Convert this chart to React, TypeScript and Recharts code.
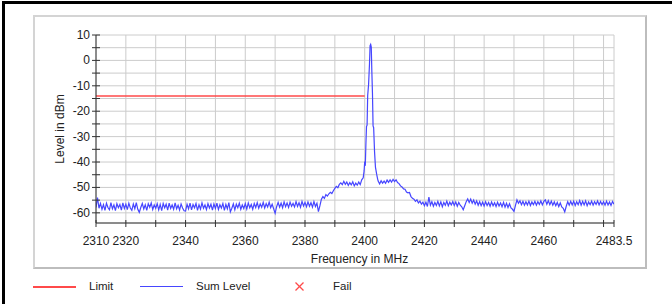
import { LineChart, Line, XAxis, YAxis, CartesianGrid } from 'recharts'

// sweep: 2310 .. 2483.5 MHz, one reading per 0.5 MHz
const sweepStart = 2310
const sweepStep = 0.5
const sweepLevels = [
  -57.9, -54.0, -58.2, -56.3, -58.6, -56.8, -59.0, -56.2, -57.9, -58.8, -56.0, -58.4, -56.9, -59.1, -56.4, -58.0, -56.7, -58.9, -56.1, -58.3,
  -56.6, -58.7, -56.2, -58.1, -59.0, -56.5, -58.4, -56.0, -58.6, -59.8, -57.9, -56.3, -58.5, -56.8, -59.0, -56.4, -57.8, -56.1, -58.7, -56.9,
  -58.2, -56.4, -58.8, -56.7, -59.1, -56.3, -58.0, -56.6, -58.9, -56.2, -58.3, -56.9, -58.6, -56.1, -58.4, -57.0, -58.9, -56.5, -58.1, -59.2,
  -59.3, -56.6, -58.4, -56.2, -58.8, -56.7, -58.0, -56.3, -59.0, -56.8, -58.5, -56.1, -58.2, -56.9, -58.7, -56.4, -58.1, -56.6, -58.9, -56.5,
  -58.3, -56.2, -58.7, -56.8, -58.1, -56.3, -59.0, -56.7, -58.4, -56.0, -59.6, -58.2, -56.5, -58.8, -56.6, -58.0, -56.2, -58.6, -56.9, -58.3,
  -56.4, -58.5, -56.1, -58.0, -56.7, -58.6, -56.3, -57.9, -56.0, -58.2, -56.5, -57.8, -55.9, -58.1, -56.4, -57.7, -55.8, -58.0, -56.6, -58.4,
  -60.2, -57.6, -55.9, -57.8, -56.2, -58.0, -55.7, -57.6, -56.1, -57.9, -55.8, -57.4, -56.3, -57.7, -55.6, -57.5, -56.0, -57.8, -55.5, -57.3,
  -55.9, -57.6, -55.7, -57.4, -56.0, -57.8, -55.6, -57.5, -56.2, -59.5, -57.2, -54.6, -53.6, -54.3, -52.8, -53.4, -52.5, -51.9, -52.4, -51.3,
  -50.4, -49.6, -50.1, -48.8, -48.2, -48.9, -47.6, -48.8, -47.9, -49.2, -48.1, -49.0, -47.8, -49.4, -48.3, -49.1, -47.9, -48.9, -47.0, -46.0,
  -40.0, -14.0, 5.0, 6.0, -10.0, -30.0, -42.0, -45.0, -46.5, -47.8, -48.6, -47.4, -48.3, -47.5, -48.4, -47.1, -48.0, -47.0, -47.9, -46.8,
  -47.7, -47.0, -48.1, -48.5, -49.4, -49.8, -50.6, -50.7, -51.8, -52.1, -52.0, -53.6, -54.3, -54.6, -55.5, -54.9, -56.1, -55.4, -56.6, -55.8,
  -57.2, -55.8, -57.5, -53.8, -57.0, -55.6, -57.4, -55.9, -57.1, -55.5, -57.3, -55.7, -57.6, -55.9, -57.0, -55.4, -57.2, -55.8, -56.9, -55.6,
  -57.1, -55.7, -57.4, -55.9, -57.0, -57.6, -58.8, -57.2, -55.6, -54.5, -55.9, -54.6, -56.2, -55.0, -56.6, -55.3, -57.0, -55.6, -57.2, -55.8,
  -57.3, -55.6, -57.1, -55.9, -57.4, -55.7, -57.2, -56.0, -57.5, -55.8, -57.3, -56.1, -57.6, -55.9, -57.8, -56.2, -57.9, -56.4, -58.1, -58.6,
  -59.4, -57.1, -54.9, -56.2, -55.3, -56.8, -55.5, -57.0, -55.6, -56.9, -55.4, -57.1, -55.7, -56.8, -55.5, -57.0, -55.6, -56.7, -55.3, -56.9,
  -55.5, -54.9, -56.6, -55.2, -56.8, -55.4, -57.0, -55.7, -57.2, -55.9, -57.5, -56.1, -57.7, -58.2, -59.6, -57.4, -55.6, -57.0, -55.5, -56.9,
  -55.4, -57.1, -55.6, -56.8, -55.2, -57.0, -55.5, -56.9, -55.3, -57.2, -55.7, -56.8, -55.4, -57.0, -55.6, -56.7, -55.3, -56.9, -55.5, -56.8,
  -55.6, -57.0, -55.4, -56.9, -55.7, -57.1, -55.5, -56.6,
]

// finer readings around the carrier
const peakFreqs = [2399.5, 2399.8, 2400.0, 2400.2, 2400.4, 2400.6, 2400.8, 2401.0, 2401.3, 2401.6, 2401.8, 2402.0, 2402.2, 2402.4, 2402.6, 2402.8, 2403.0, 2403.3, 2403.6, 2404.0, 2404.3, 2404.5]
const peakLevels = [-46.2, -43.5, -39.8, -41.5, -33.0, -26.0, -25.5, -13.8, -9.5, -1.5, 5.8, 6.3, 5.2, -4.8, -13.0, -25.8, -26.5, -36.0, -42.0, -44.8, -46.5, -47.5]

const limitFreqs = [2310, 2400]
const limitLevels = [-14, -14]

const xTicks = [2310, 2320, 2330, 2340, 2350, 2360, 2370, 2380, 2390, 2400, 2410, 2420, 2430, 2440, 2450, 2460, 2470, 2480, 2483.5]
const xLabels = [2310, 2320, 2340, 2360, 2380, 2400, 2420, 2440, 2460, 2483.5]
const yTicks = [-60, -55, -50, -45, -40, -35, -30, -25, -20, -15, -10, -5, 0, 5, 10]
const yLabels = [-60, -50, -40, -30, -20, -10, 0, 10]

const FONT = '"Liberation Sans", Arial, sans-serif'
const BLUE = '#4646ff'
const RED = '#ff4a4a'

const sumData = [
  ...sweepLevels
    .map((level, i) => ({ freq: sweepStart + i * sweepStep, level }))
    .filter(p => p.freq < 2399.5 || p.freq > 2404.5),
  ...peakFreqs.map((freq, i) => ({ freq, level: peakLevels[i] })),
].sort((a, b) => a.freq - b.freq)

const limitData = limitFreqs.map((freq, i) => ({ freq, level: limitLevels[i] }))

const XTick = ({ x, y, payload }: any) => (
  <g>
    <line x1={x} x2={x} y1={y - 3} y2={y + 4} stroke="#333" />
    {xLabels.includes(payload.value) && (
      <text x={x} y={y + 22} textAnchor="middle" fontSize={12} fill="#222" fontFamily={FONT}>
        {payload.value}
      </text>
    )}
  </g>
)

const YTick = ({ x, y, payload }: any) => (
  <g>
    <line x1={x - 4} x2={x + 4} y1={y} y2={y} stroke="#333" />
    {yLabels.includes(payload.value) && (
      <text x={x - 6} y={y + 4} textAnchor="end" fontSize={12} fill="#222" fontFamily={FONT}>
        {payload.value}
      </text>
    )}
  </g>
)

export default function App() {
  return (
    <div style={{ position: 'relative', width: 672, height: 304, background: '#fff', fontFamily: FONT, color: '#222', overflow: 'hidden' }}>
      <style>{'body { margin: 0; }'}</style>

      {/* outer frame (only top and left visible) */}
      <div style={{ position: 'absolute', left: 2, top: 1, width: 670, height: 3, background: '#000' }} />
      <div style={{ position: 'absolute', left: 2, top: 1, width: 3, height: 303, background: '#000' }} />

      {/* gray panel */}
      <div style={{
        position: 'absolute', left: 33, top: 15, width: 610, height: 250,
        borderTop: '2px solid #d4d4d4', borderLeft: '2px solid #d4d4d4',
        borderRight: '2px solid #bdbdbd', borderBottom: '2px solid #bdbdbd',
      }} />

      <div style={{ position: 'absolute', left: 0, top: 0 }}>
        <LineChart width={672} height={304} data={sumData} margin={{ top: 35, right: 58, left: 0, bottom: 51 }}>
          <CartesianGrid stroke="#cccccc" />
          <XAxis
            dataKey="freq"
            type="number"
            domain={[2310, 2483.5]}
            ticks={xTicks}
            interval={0}
            height={30}
            tickSize={0}
            tickMargin={0}
            tickLine={false}
            axisLine={{ stroke: '#333' }}
            tick={<XTick />}
            allowDataOverflow
          />
          <YAxis
            type="number"
            domain={[-64, 10]}
            ticks={yTicks}
            interval={0}
            width={96}
            tickSize={0}
            tickMargin={0}
            tickLine={false}
            axisLine={{ stroke: '#333' }}
            tick={<YTick />}
            allowDataOverflow
          />
          <Line data={limitData} dataKey="level" type="linear" stroke={RED} strokeWidth={1.6} dot={false} isAnimationActive={false} />
          <Line dataKey="level" type="linear" stroke={BLUE} strokeWidth={1.2} dot={false} isAnimationActive={false} />
        </LineChart>
      </div>

      {/* axis titles */}
      <div style={{ position: 'absolute', left: 59.5, top: 129, transform: 'translate(-50%, -50%) rotate(-90deg)', fontSize: 12, whiteSpace: 'nowrap' }}>
        Level in dBm
      </div>
      <div style={{ position: 'absolute', left: 359.5, top: 259, transform: 'translate(-50%, -50%)', fontSize: 12, whiteSpace: 'nowrap' }}>
        Frequency in MHz
      </div>

      {/* legend */}
      <div style={{ position: 'absolute', left: 33, top: 285.5, width: 43, height: 2, background: RED }} />
      <div style={{ position: 'absolute', left: 89, top: 286, transform: 'translateY(-50%)', fontSize: 11.5 }}>Limit</div>
      <div style={{ position: 'absolute', left: 140, top: 286, width: 43, height: 1, background: BLUE }} />
      <div style={{ position: 'absolute', left: 196, top: 286, transform: 'translateY(-50%)', fontSize: 11.5 }}>Sum Level</div>
      <svg style={{ position: 'absolute', left: 295, top: 282 }} width={9} height={9}>
        <line x1={0.5} y1={0.5} x2={8.5} y2={8.5} stroke={RED} strokeWidth={1.2} />
        <line x1={8.5} y1={0.5} x2={0.5} y2={8.5} stroke={RED} strokeWidth={1.2} />
      </svg>
      <div style={{ position: 'absolute', left: 333, top: 286, transform: 'translateY(-50%)', fontSize: 11.5 }}>Fail</div>
    </div>
  )
}
